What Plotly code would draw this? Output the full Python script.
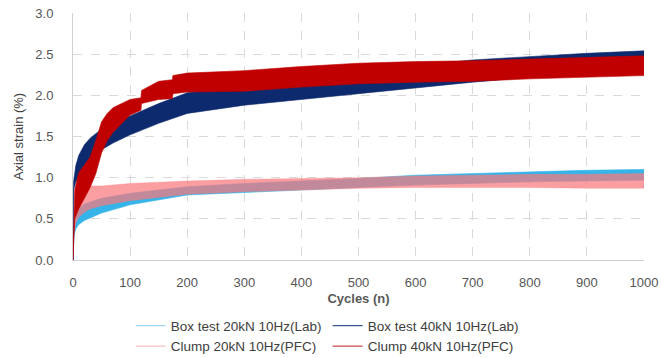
import plotly.graph_objects as go

# ---- data (envelopes of the cyclic strain bands) ----
box20_cycles = [0, 1, 2, 5, 10, 20, 50, 100, 200, 300, 400, 500, 600, 700, 800, 900, 1000]
box20_upper  = [0.0, 0.32, 0.45, 0.55, 0.62, 0.68, 0.75, 0.81, 0.89, 0.93, 0.96, 0.99, 1.03, 1.05, 1.07, 1.09, 1.10]
box20_lower  = [0.0, 0.20, 0.30, 0.38, 0.43, 0.48, 0.57, 0.67, 0.79, 0.82, 0.85, 0.88, 0.91, 0.93, 0.95, 0.96, 0.97]

clump20_cycles = [0, 1, 5, 10, 20, 30, 50, 100, 200, 300, 400, 500, 600, 700, 800, 900, 1000]
clump20_upper  = [0.0, 0.50, 0.75, 0.82, 0.88, 0.90, 0.90, 0.93, 0.96, 0.98, 0.99, 1.00, 1.02, 1.03, 1.04, 1.04, 1.05]
clump20_lower  = [0.0, 0.30, 0.45, 0.52, 0.58, 0.62, 0.66, 0.72, 0.80, 0.83, 0.85, 0.87, 0.88, 0.88, 0.88, 0.87, 0.87]

box40_cycles = [0, 1, 5, 10, 20, 30, 50, 70, 100, 150, 200, 300, 400, 500, 600, 700, 800, 900, 1000]
box40_upper  = [0.0, 0.95, 1.15, 1.27, 1.40, 1.48, 1.59, 1.66, 1.75, 1.90, 2.03, 2.12, 2.20, 2.28, 2.36, 2.43, 2.47, 2.51, 2.54]
box40_lower  = [0.0, 0.85, 0.95, 1.02, 1.13, 1.22, 1.34, 1.42, 1.52, 1.66, 1.78, 1.88, 1.95, 2.02, 2.09, 2.16, 2.22, 2.27, 2.31]

clump40_cycles = [0, 3, 10, 20, 30, 40, 50, 60, 70, 100, 119, 120, 150, 174, 175, 200, 300, 400, 500, 600, 700, 800, 900, 1000]
clump40_upper  = [0.0, 0.85, 1.06, 1.15, 1.25, 1.45, 1.68, 1.78, 1.85, 1.95, 1.97, 2.06, 2.17, 2.19, 2.24, 2.27, 2.30, 2.35, 2.39, 2.41, 2.42, 2.44, 2.46, 2.48]
clump40_lower  = [0.0, 0.50, 0.62, 0.75, 0.88, 1.05, 1.30, 1.45, 1.55, 1.76, 1.82, 1.90, 1.95, 1.96, 2.02, 2.04, 2.05, 2.10, 2.14, 2.16, 2.17, 2.20, 2.22, 2.24]

series_names = ["Box test 20kN 10Hz(Lab)", "Box test 40kN 10Hz(Lab)",
                "Clump 20kN 10Hz(PFC)", "Clump 40kN 10Hz(PFC)"]

x_ticks = [0, 100, 200, 300, 400, 500, 600, 700, 800, 900, 1000]
y_ticks = [0.0, 0.5, 1.0, 1.5, 2.0, 2.5, 3.0]

# ---- styles ----
C_BOX20 = "#35b4ea"
C_BOX40 = "#0d2a6e"
C_CL20 = "rgba(250,120,125,0.72)"
C_CL40 = "#c00000"

fig = go.Figure()

def band(cyc, up, lo, color, line_color):
    fig.add_trace(go.Scatter(
        x=list(cyc) + list(cyc)[::-1],
        y=list(up) + list(lo)[::-1],
        fill="toself", fillcolor=color,
        line=dict(color=line_color, width=0.6),
        mode="lines", showlegend=False, hoverinfo="skip"))

band(box20_cycles, box20_upper, box20_lower, C_BOX20, C_BOX20)
band(clump20_cycles, clump20_upper, clump20_lower, C_CL20, "rgba(250,120,125,0.5)")
band(box40_cycles, box40_upper, box40_lower, C_BOX40, C_BOX40)
band(clump40_cycles, clump40_upper, clump40_lower, C_CL40, C_CL40)

legend_colors = ["#9fd8f2", "#3a5a8c", "#f6c2c4", "#c84a4a"]
for name, col in zip(series_names, legend_colors):
    fig.add_trace(go.Scatter(x=[None], y=[None], mode="lines", name=name,
                             line=dict(color=col, width=1.2)))

grid = dict(showgrid=True, gridcolor="#d9d9d9", griddash="dash", gridwidth=1)
fig.update_layout(
    width=661, height=358,
    margin=dict(l=73, r=17, t=13, b=98, autoexpand=False),
    paper_bgcolor="white", plot_bgcolor="white",
    font=dict(family="Liberation Sans, Arial, sans-serif", color="#595959"),
    xaxis=dict(range=[0, 1000], tickvals=x_ticks, zeroline=False, automargin=False,
               showline=True, linecolor="#d0d0d0", linewidth=1,
               ticklabeloverflow="allow",
               tickfont=dict(size=13, color="#555555"), ticklabelstandoff=10,
               title=dict(text="<b>Cycles (n)</b>", font=dict(size=13, color="#595959"),
                          standoff=5),
               **grid),
    yaxis=dict(range=[0, 3.0], tickvals=y_ticks, tickformat=".1f", zeroline=False,
               automargin=False, ticklabeloverflow="allow",
               showline=True, linecolor="#d0d0d0", linewidth=1,
               tickfont=dict(size=13, color="#555555"), ticklabelstandoff=16,
               title=dict(text="Axial strain (%)", font=dict(size=13, color="#404040"),
                          standoff=8),
               **grid),
    legend=dict(orientation="h", x=0.101, xanchor="left", y=-0.204, yanchor="top",
                font=dict(size=13.5, color="#404040"),
                entrywidth=152, entrywidthmode="pixels",
                itemwidth=30, tracegroupgap=0, bgcolor="rgba(0,0,0,0)"),
)

# remove the default 8px page margin so the figure sits at the window origin
fig.write_html("out.html",
               config={"displayModeBar": False},
               post_script="document.body.style.margin='0';document.body.style.overflow='hidden';")
